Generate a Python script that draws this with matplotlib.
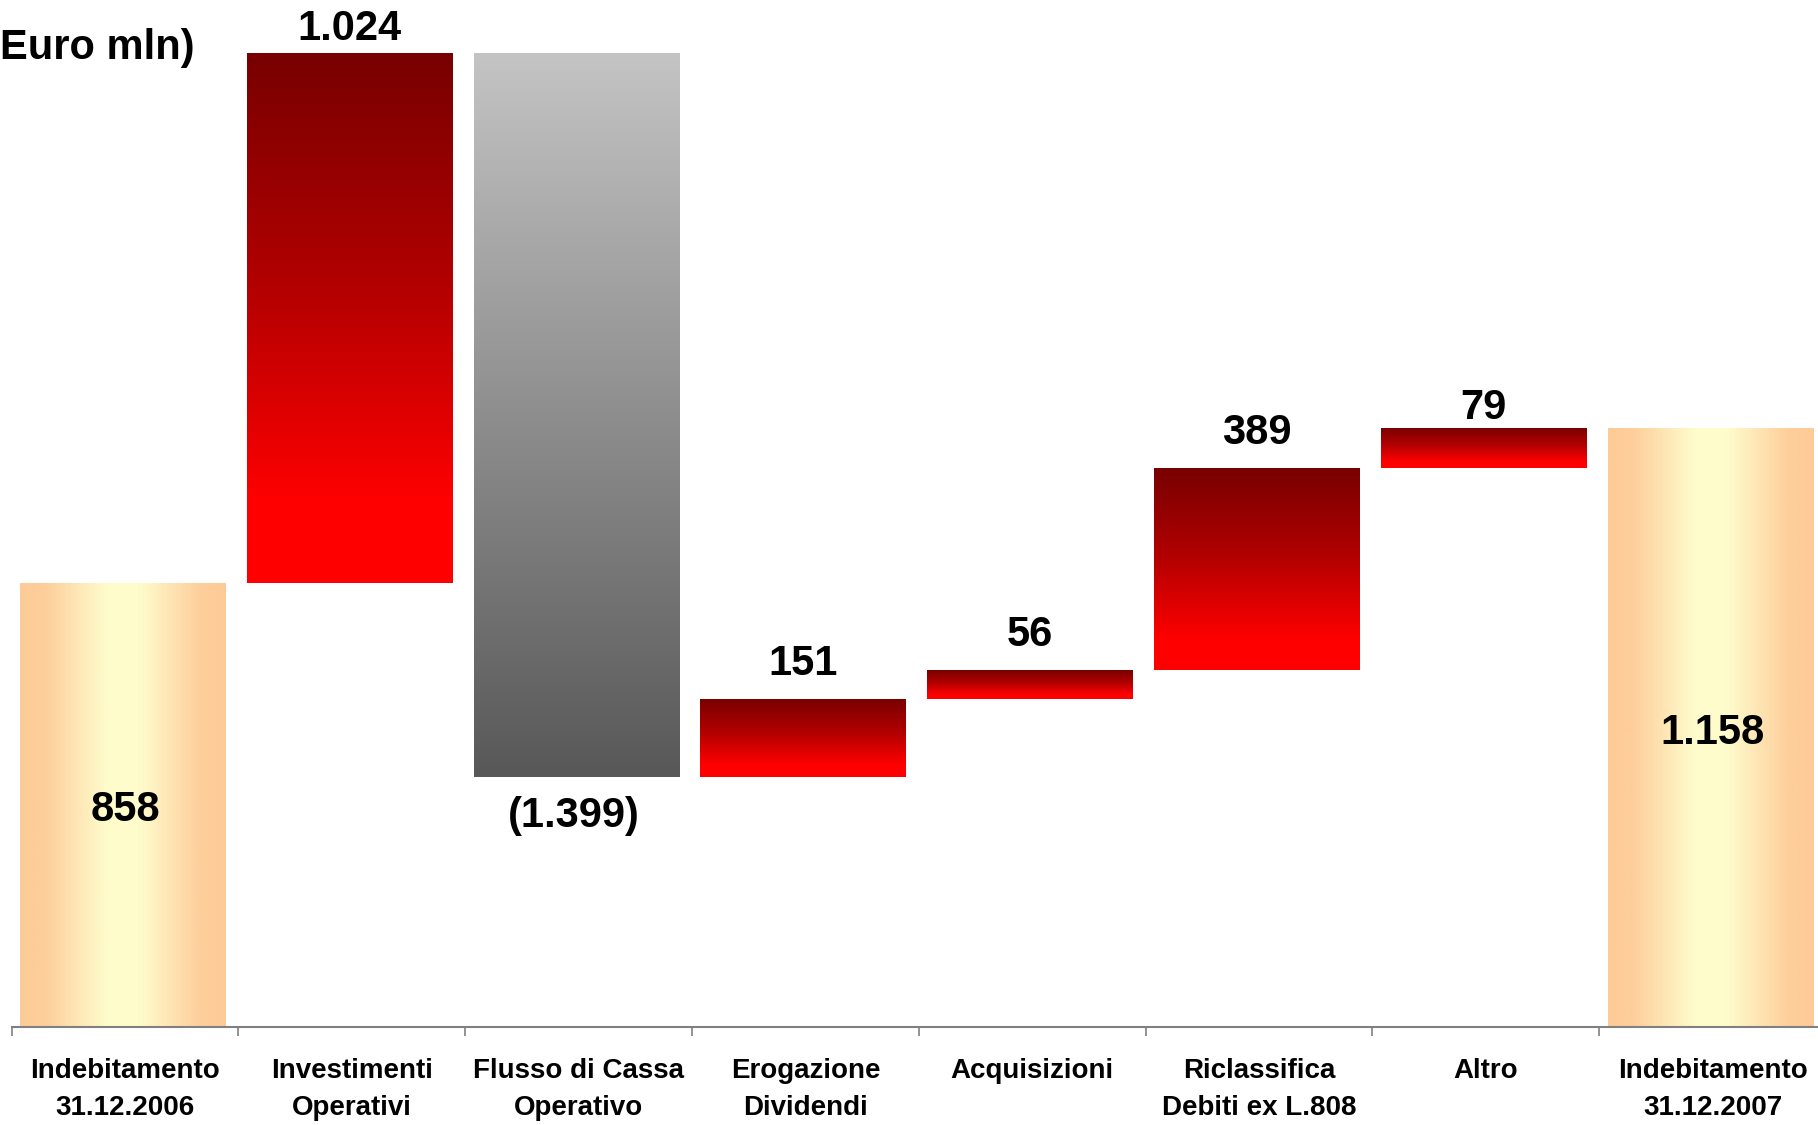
#!/usr/bin/env python3

import numpy as np
import matplotlib
matplotlib.use('Agg')
import matplotlib.pyplot as plt
from matplotlib.colors import LinearSegmentedColormap

categories = ['Indebitamento\n31.12.2006', 'Investimenti\nOperativi',
              'Flusso di Cassa\nOperativo', 'Erogazione\nDividendi',
              'Acquisizioni', 'Riclassifica\nDebiti ex L.808', 'Altro',
              'Indebitamento\n31.12.2007']
start_value = 858
deltas = [1024, -1399, 151, 56, 389, 79]
end_value = 1158
value_labels = ['858', '1.024', '(1.399)', '151', '56', '389', '79', '1.158']

plt.rcParams['font.family'] = ['Liberation Sans', 'DejaVu Sans']

total_cmap = LinearSegmentedColormap.from_list('total', [
    (0.0, '#FDCB98'), (0.12, '#FDCE9B'), (0.42, '#FFFCCC'),
    (0.58, '#FFFCCC'), (0.88, '#FDCE9B'), (1.0, '#FDCB98')])
red_cmap = LinearSegmentedColormap.from_list('red', [
    (0.0, '#780000'), (0.45, '#B40000'), (0.85, '#FF0000'), (1.0, '#FF0000')])
grey_cmap = LinearSegmentedColormap.from_list('grey', ['#C4C4C4', '#585858'])

# waterfall geometry
bottoms = [0]
heights = [start_value]
level = start_value
for d in deltas:
    if d >= 0:
        bottoms.append(level)
        heights.append(d)
    else:
        bottoms.append(level + d)
        heights.append(-d)
    level += d
bottoms.append(0)
heights.append(end_value)

fig = plt.figure(figsize=(18.18, 11.25), dpi=100)
ax = fig.add_axes([0.0064, 0.0871, 0.998, 0.9129])

x = np.arange(len(categories))
bars = ax.bar(x - 0.01, heights, bottom=bottoms, width=0.906,
              color='none', edgecolor='none')

vgrad = np.linspace(0, 1, 256).reshape(-1, 1)
hgrad = np.linspace(0, 1, 256).reshape(1, -1)
for i, b in enumerate(bars):
    x0, y0 = b.get_x(), b.get_y()
    x1, y1 = x0 + b.get_width(), y0 + b.get_height()
    if i in (0, len(bars) - 1):
        img, cmap = hgrad, total_cmap
    elif deltas[i - 1] < 0:
        img, cmap = vgrad, grey_cmap
    else:
        img, cmap = vgrad, red_cmap
    im = ax.imshow(img, extent=[x0, x1, y0, y1], origin='upper',
                   aspect='auto', cmap=cmap, vmin=0, vmax=1,
                   interpolation='bilinear', zorder=2)
    im.set_clip_path(b)

# value labels
lab_font = dict(fontsize=30, fontweight='bold', color='black', ha='center')
for i, b in enumerate(bars):
    cx = b.get_x() + b.get_width() / 2
    top = b.get_y() + b.get_height()
    if i in (0, len(bars) - 1):
        ax.annotate(value_labels[i], (cx + 0.01, b.get_y() + b.get_height() / 2),
                    xytext=(0, -4), textcoords='offset points',
                    va='center', **lab_font)
    elif deltas[i - 1] < 0:
        ax.annotate(value_labels[i], (cx, b.get_y()), xytext=(-2, -14),
                    textcoords='offset points', va='top', **lab_font)
    else:
        off = {'1.024': 3, '79': 0}.get(value_labels[i], 11)
        ax.annotate(value_labels[i], (cx, top), xytext=(0, off),
                    textcoords='offset points', va='bottom', **lab_font)

ax.set_xlim(-0.5, len(categories) - 0.5)
ax.set_ylim(0, 1984)

for s in ('top', 'right', 'left'):
    ax.spines[s].set_visible(False)
ax.spines['bottom'].set_color('#808080')
ax.spines['bottom'].set_linewidth(1.5)
ax.set_yticks([])

ax.set_xticks(x)
ax.set_xticklabels(categories, fontsize=20, fontweight='bold',
                   linespacing=1.55)
ax.set_xticks(np.arange(len(categories)) - 0.5, minor=True)
ax.tick_params(axis='x', which='major', length=0, pad=22)
ax.tick_params(axis='x', which='minor', length=6.5, width=1.2,
               color='#808080', direction='out')

fig.text(0.0, 0.957, 'Euro mln)', fontsize=30, fontweight='bold',
         ha='left', va='center')

fig.savefig('out.png', dpi=100)
